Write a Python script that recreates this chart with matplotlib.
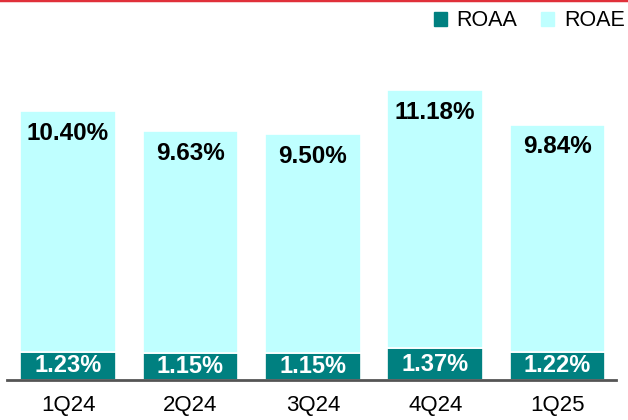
import numpy as np
import matplotlib.pyplot as plt
from matplotlib.patches import Patch

quarters = ['1Q24', '2Q24', '3Q24', '4Q24', '1Q25']
roaa = [1.23, 1.15, 1.15, 1.37, 1.22]
roae = [10.40, 9.63, 9.50, 11.18, 9.84]

teal = '#008080'
cyan = '#BFFFFF'

plt.rcParams['font.family'] = ['Liberation Sans', 'DejaVu Sans']

fig = plt.figure(figsize=(6.28, 4.20), dpi=100)
ax = fig.add_axes([0, 40 / 420, 1, 380 / 420])

x = np.arange(len(quarters))
w = 0.78
ax.bar(x, roaa, width=w, color=teal, edgecolor='white', linewidth=1.2)
ax.bar(x, roae, width=w, bottom=roaa, color=cyan, edgecolor='white', linewidth=1.2)

for i in range(len(quarters)):
    ax.text(x[i], roaa[i] / 2, f'{roaa[i]:.2f}%', ha='center', va='center',
            color='white', fontsize=17, fontweight='bold')
    ax.annotate(f'{roae[i]:.2f}%', (x[i], roaa[i] + roae[i]), xytext=(0, -16),
                textcoords='offset points', ha='center', va='center',
                fontsize=17.5, fontweight='bold', color='black')

ax.set_xlim(-0.556, 4.575)
ax.set_ylim(0, 16.45)
ax.set_xticks(x)
ax.set_xticklabels(quarters, fontsize=16)
ax.tick_params(axis='x', length=0, pad=11)
ax.set_yticks([])
for s in ['top', 'left', 'right']:
    ax.spines[s].set_visible(False)
ax.spines['bottom'].set_color('#555555')
ax.spines['bottom'].set_linewidth(2)
ax.spines['bottom'].set_bounds(-0.5, 4.48)
ax.set_facecolor('none')

handles = [Patch(color=teal, label='ROAA'), Patch(color=cyan, label='ROAE')]
fig.legend(handles=handles, loc='center right', bbox_to_anchor=(625 / 628, 1 - 21 / 420),
           ncol=2, frameon=False, fontsize=15.5, handlelength=0.6, handleheight=0.6,
           handletextpad=0.47, columnspacing=1.1, borderpad=0, borderaxespad=0)

fig.add_artist(plt.Line2D([0, 1], [0.999, 0.999], color='#E0303A', linewidth=2.5,
                          transform=fig.transFigure))

fig.savefig('out.png', dpi=100)
